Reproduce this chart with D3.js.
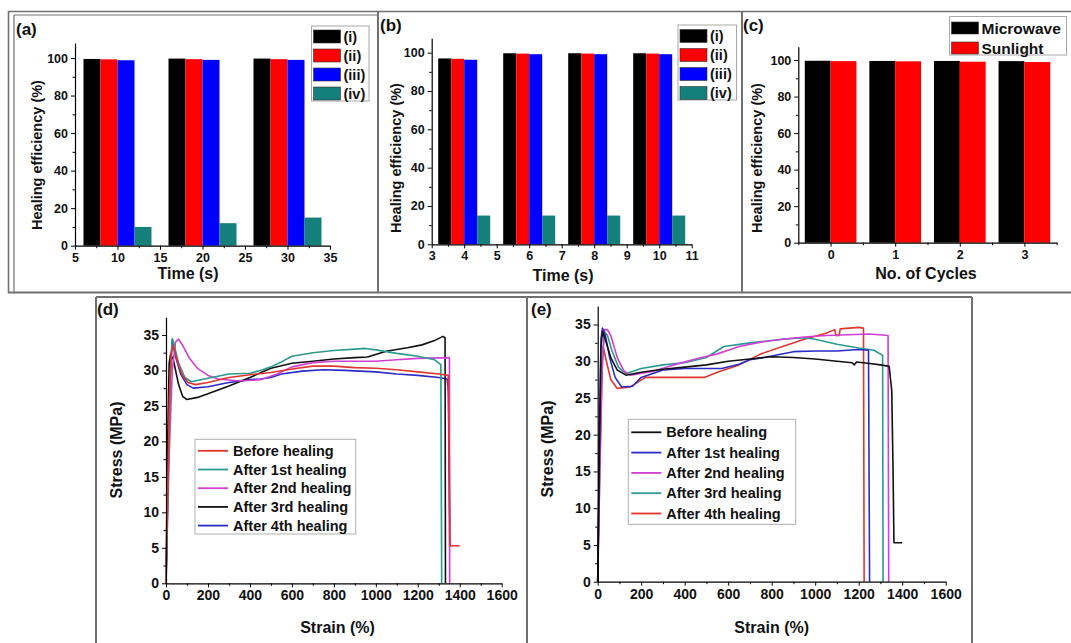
<!DOCTYPE html>
<html>
<head>
<meta charset="utf-8">
<script src="https://cdn.jsdelivr.net/npm/d3@7"></script>
<style>
  body { margin: 0; background: #fff; }
  svg { display: block; font-family: "Liberation Sans", Arial, sans-serif; font-weight: bold; }
</style>
</head>
<body>
<div id="fig"></div>
<script>
// ---- data ----
var barLabels = ["(i)", "(ii)", "(iii)", "(iv)"];
var timesA = [10, 20, 30];
var a_i = [99.5, 99.7, 99.7];
var a_ii = [99.3, 99.4, 99.4];
var a_iii = [98.8, 99.0, 99.0];
var a_iv = [10, 12, 15];

var timesB = [4, 6, 8, 10];
var b_i = [97.0, 99.7, 99.7, 99.7];
var b_ii = [96.8, 99.5, 99.5, 99.5];
var b_iii = [96.3, 99.2, 99.2, 99.2];
var b_iv = [15, 15, 15, 15];

var cycles = [0, 1, 2, 3];
var microwave = [99.6, 99.5, 99.5, 99.4];
var sunlight = [99.4, 99.3, 99.1, 98.9];

var ticksTimeA = [5, 10, 15, 20, 25, 30, 35];
var ticksTimeB = [3, 4, 5, 6, 7, 8, 9, 10, 11];
var ticksEff = [0, 20, 40, 60, 80, 100];
var ticksStrain = [0, 200, 400, 600, 800, 1000, 1200, 1400, 1600];
var ticksStress = [0, 5, 10, 15, 20, 25, 30, 35];

var curveNames = ["Before healing", "After 1st healing", "After 2nd healing", "After 3rd healing", "After 4th healing"];

// panel (d): [strain %, stress MPa]
var dBefore = [[0,0],[8,12],[16,26],[25,32.5],[35,33.5],[50,31.8],[75,29.5],[105,28.3],[140,28],[200,28.3],[300,29],[400,29.4],[500,29.7],[600,30.2],[700,30.6],[800,30.6],[900,30.4],[1000,30.3],[1100,30.1],[1200,29.8],[1300,29.5],[1345,29.3],[1350,18],[1354,5.3],[1400,5.3]];
var dFirst = [[0,0],[10,14],[20,28],[30,34.5],[40,33.5],[60,31],[90,29],[120,28.4],[200,28.9],[300,29.5],[400,29.6],[450,30],[500,30.5],[550,31.2],[600,32],[700,32.5],[800,32.8],[900,33],[950,33.1],[1000,32.9],[1100,32.4],[1200,32],[1280,31.5],[1310,30.8],[1314,0]];
var dSecond = [[0,0],[15,18],[30,30],[45,34],[60,34.4],[80,33.5],[110,31.8],[150,30.3],[200,29.3],[250,28.8],[350,28.5],[450,28.7],[530,29.5],[600,30.5],[700,31.1],[800,31.3],[900,31.3],[1000,31.3],[1100,31.5],[1200,31.7],[1351,31.8],[1352,0]];
var dThird = [[0,0],[8,20],[15,31],[22,32.3],[35,31.5],[60,28],[80,26.3],[100,25.9],[150,26.2],[200,26.7],[300,27.8],[400,29],[500,30.3],[600,31],[700,31.3],[800,31.6],[900,31.8],[960,31.9],[1050,32.7],[1150,33.2],[1220,33.6],[1280,34.2],[1320,34.8],[1330,34.6],[1332,0]];
var dFourth = [[0,0],[10,16],[20,30],[30,34.3],[45,32],[70,29.5],[100,28],[130,27.5],[200,27.7],[300,28.3],[400,28.7],[450,28.8],[500,29],[550,29.5],[650,29.9],[750,30.1],[850,30],[1000,29.8],[1100,29.5],[1200,29.3],[1300,29],[1340,28.8],[1346,27],[1352,5.2]];

// panel (e)
var eBefore = [[0,0],[8,18],[15,32],[22,34],[35,33],[60,30.5],[90,28.8],[130,28.1],[200,28.5],[300,28.9],[400,29.2],[500,29.5],[600,30],[700,30.3],[800,30.6],[900,30.5],[1000,30.3],[1100,30],[1170,29.8],[1180,29.5],[1190,29.9],[1250,29.7],[1300,29.5],[1340,29.3],[1352,26],[1358,15],[1362,5.3],[1400,5.3]];
var eFirst = [[0,0],[8,20],[15,33],[22,34.5],[35,33.5],[55,30.5],[80,27.8],[110,26.5],[160,26.6],[200,27.8],[300,28.8],[400,29],[500,29],[570,29],[650,29.6],[700,30.2],[800,30.7],[900,31.3],[1000,31.4],[1100,31.4],[1200,31.6],[1245,31.5],[1250,0]];
var eSecond = [[0,0],[12,18],[22,30],[32,34.3],[45,34.3],[60,33.5],[90,30.5],[120,28.7],[150,28.1],[250,28.6],[350,29.5],[450,30.3],[550,31],[650,32],[750,32.6],[850,33],[950,33.3],[1050,33.5],[1150,33.6],[1250,33.7],[1335,33.5],[1338,0]];
var eThird = [[0,0],[10,16],[20,30],[30,34],[45,33.5],[65,31.5],[95,29.2],[130,28.3],[200,29],[300,29.5],[400,29.8],[500,30.5],[580,32],[700,32.5],[850,33],[950,33.2],[1000,33],[1100,32.3],[1200,31.8],[1270,31.5],[1310,30.8],[1312,0]];
var eFourth = [[0,0],[8,15],[15,26],[25,32],[40,30],[60,27.5],[90,26.3],[150,26.5],[220,27.8],[300,27.8],[400,27.8],[490,27.8],[550,28.5],[650,29.5],[750,31],[850,32],[950,33],[1050,33.8],[1090,34.3],[1095,33.5],[1110,33.5],[1115,34.4],[1200,34.6],[1222,34.5],[1225,0]];

var svgWidth = 1071;
var svgHeight = 643;

var svg = d3.select("#fig")
  .append("svg")
  .attr("width", svgWidth)
  .attr("height", svgHeight);

// panel frames
var frameColor = "#707070";
function hline(x1, x2, y, w) {
  svg.append("line").attr("x1", x1).attr("x2", x2).attr("y1", y).attr("y2", y)
    .attr("stroke", frameColor).attr("stroke-width", w || 1.6);
}
function vline(x, y1, y2, w) {
  svg.append("line").attr("x1", x).attr("x2", x).attr("y1", y1).attr("y2", y2)
    .attr("stroke", frameColor).attr("stroke-width", w || 1.6);
}
hline(8, 1071, 11.5);
vline(8.5, 11, 293);
hline(14, 378, 15, 1.2);
vline(14, 15, 292, 1.2);
vline(378, 11, 293, 2);
vline(742, 11, 293, 2);
hline(8, 1071, 292.5, 2);
hline(96, 972, 297, 2);
vline(96, 297, 643, 2);
vline(527, 297, 643, 2);
vline(972, 297, 643, 2);

var intFmt = d3.format("d");

function styleAxis(g, size) {
  g.select(".domain").attr("stroke", "#000").attr("stroke-width", 1.2);
  g.selectAll(".tick line").attr("stroke", "#000").attr("stroke-width", 1);
  g.selectAll(".tick text").attr("font-size", size).attr("font-weight", "bold")
    .attr("font-family", "Liberation Sans, Arial, sans-serif").attr("fill", "#111");
}

function drawAxes(p, xs, ys) {
  var xAxis = d3.axisBottom(xs).tickValues(p.xTicks).tickSize(4).tickSizeOuter(0).tickPadding(3)
    .tickFormat(intFmt);
  var gx = svg.append("g").attr("transform", `translate(0, ${p.y0})`).call(xAxis);
  styleAxis(gx, p.tickFont);
  if (p.xMinor) {
    var gxm = svg.append("g").attr("transform", `translate(0, ${p.y0})`)
      .call(d3.axisBottom(xs).tickValues(p.xMinor).tickSize(2.5).tickSizeOuter(0).tickFormat(""));
    gxm.select(".domain").remove();
    gxm.selectAll(".tick line").attr("stroke", "#000");
  }
  var gy = svg.append("g").attr("transform", `translate(${p.x0}, 0)`)
    .call(d3.axisLeft(ys).tickValues(p.yTicks).tickSize(4).tickSizeOuter(0).tickPadding(3).tickFormat(intFmt));
  styleAxis(gy, p.tickFont);
  if (p.yMinor) {
    var gym = svg.append("g").attr("transform", `translate(${p.x0}, 0)`)
      .call(d3.axisLeft(ys).tickValues(p.yMinor).tickSize(2.5).tickSizeOuter(0).tickFormat(""));
    gym.select(".domain").remove();
    gym.selectAll(".tick line").attr("stroke", "#000");
  }

  svg.append("text")
    .attr("x", p.xTitle[1]).attr("y", p.xTitle[2])
    .attr("text-anchor", "middle")
    .attr("font-size", p.titleFont)
    .attr("fill", "#111")
    .text(p.xTitle[0]);
  svg.append("text")
    .attr("transform", `translate(${p.yTitle[1]}, ${p.yTitle[2]}) rotate(-90)`)
    .attr("text-anchor", "middle")
    .attr("dominant-baseline", "central")
    .attr("font-size", p.yTitleFont || p.titleFont)
    .attr("fill", "#111")
    .text(p.yTitle[0]);
  svg.append("text")
    .attr("x", p.label[1]).attr("y", p.label[2])
    .attr("font-size", 17)
    .attr("fill", "#111")
    .text(p.label[0]);
}

function barPanel(p) {
  var xs = d3.scaleLinear().domain(p.xDomain).range([p.x0, p.x1]);
  var ys = d3.scaleLinear().domain(p.yDomain).range([p.y0, p.y1]);

  p.series.forEach(function (s, si) {
    svg.append("g").selectAll("rect")
      .data(p.groups.map((g, i) => ({ g: g, v: s.values[i] })))
      .enter()
      .append("rect")
      .attr("x", d => xs(d.g + p.offsets[si] - p.barWidth / 2))
      .attr("width", d => xs(d.g + p.offsets[si] + p.barWidth / 2) - xs(d.g + p.offsets[si] - p.barWidth / 2))
      .attr("y", d => ys(d.v))
      .attr("height", d => ys(0) - ys(d.v))
      .attr("fill", s.color);
  });

  drawAxes(p, xs, ys);

  // legend
  var lg = p.legend;
  svg.append("rect").attr("x", lg.x).attr("y", lg.y).attr("width", lg.w).attr("height", lg.h)
    .attr("fill", "#fff").attr("stroke", "#a8a8a8").attr("stroke-width", 1);
  p.series.forEach(function (s, i) {
    var cy = lg.y + lg.first + i * lg.step;
    svg.append("rect").attr("x", lg.x + 2).attr("y", cy - lg.sh / 2)
      .attr("width", lg.sw).attr("height", lg.sh).attr("fill", s.color)
      .attr("stroke", "#333").attr("stroke-width", 0.6);
    svg.append("text").attr("x", lg.x + lg.sw + 5).attr("y", cy)
      .attr("dominant-baseline", "central")
      .attr("font-size", lg.font).attr("fill", "#111").text(s.name);
  });
}

function curvePanel(p) {
  var xs = d3.scaleLinear().domain(p.xDomain).range([p.x0, p.x1]);
  var ys = d3.scaleLinear().domain(p.yDomain).range([p.y0, p.y1]);
  var line = d3.line().x(d => xs(d[0])).y(d => ys(d[1]));

  p.series.slice().reverse().forEach(function (s) {
    svg.append("path").datum(s.values)
      .attr("fill", "none").attr("stroke", s.color)
      .attr("stroke-width", 1.6).attr("stroke-linejoin", "round")
      .attr("d", line);
  });

  drawAxes(p, xs, ys);

  var lg = p.legend;
  svg.append("rect").attr("x", lg.x).attr("y", lg.y).attr("width", lg.w).attr("height", lg.h)
    .attr("fill", "#fff").attr("stroke", "#b0b0b0").attr("stroke-width", 1);
  p.series.forEach(function (s, i) {
    var cy = lg.y + lg.first + i * lg.step;
    svg.append("line").attr("x1", lg.x + 3).attr("x2", lg.x + 33).attr("y1", cy).attr("y2", cy)
      .attr("stroke", s.color).attr("stroke-width", 1.8);
    svg.append("text").attr("x", lg.x + 38).attr("y", cy)
      .attr("dominant-baseline", "central")
      .attr("font-size", lg.font).attr("fill", "#111").text(s.name);
  });
}

var barColors = ["#000000", "#ff0000", "#0000ff", "#157f7b"];

barPanel({
  x0: 75, x1: 330, y0: 245.7, y1: 43,
  xDomain: [5, 35], yDomain: [0, 108],
  xTicks: ticksTimeA, xMinor: d3.range(7.5, 35, 5),
  yTicks: ticksEff, yMinor: d3.range(10, 110, 20),
  tickFont: 12.5, titleFont: 16, yTitleFont: 14.5,
  groups: timesA, offsets: [-3, -1, 1, 3], barWidth: 2,
  series: [
    { name: barLabels[0], values: a_i, color: barColors[0] },
    { name: barLabels[1], values: a_ii, color: barColors[1] },
    { name: barLabels[2], values: a_iii, color: barColors[2] },
    { name: barLabels[3], values: a_iv, color: barColors[3] }
  ],
  xTitle: ["Time (s)", 188, 279], yTitle: ["Healing efficiency (%)", 37, 155],
  label: ["(a)", 16, 35],
  legend: { x: 311.5, y: 26, w: 57.5, h: 75, first: 10.5, step: 19, sw: 27, sh: 13, font: 14.5 }
});

barPanel({
  x0: 431.7, x1: 691.7, y0: 244.3, y1: 38.3,
  xDomain: [3, 11], yDomain: [0, 107.5],
  xTicks: ticksTimeB, xMinor: d3.range(3.5, 11, 1),
  yTicks: ticksEff, yMinor: d3.range(10, 110, 20),
  tickFont: 12.5, titleFont: 16, yTitleFont: 14.5,
  groups: timesB, offsets: [-0.6, -0.2, 0.2, 0.6], barWidth: 0.4,
  series: [
    { name: barLabels[0], values: b_i, color: barColors[0] },
    { name: barLabels[1], values: b_ii, color: barColors[1] },
    { name: barLabels[2], values: b_iii, color: barColors[2] },
    { name: barLabels[3], values: b_iv, color: barColors[3] }
  ],
  xTitle: ["Time (s)", 563, 281], yTitle: ["Healing efficiency (%)", 396, 158],
  label: ["(b)", 380, 31],
  legend: { x: 678, y: 25, w: 58.5, h: 75, first: 11, step: 19, sw: 27, sh: 13, font: 14.5 }
});

barPanel({
  x0: 798.3, x1: 1056.7, y0: 242.7, y1: 46.7,
  xDomain: [-0.5, 3.5], yDomain: [0, 107.3],
  xTicks: cycles, xMinor: [-0.5, 0.5, 1.5, 2.5, 3.5],
  yTicks: ticksEff, yMinor: d3.range(10, 110, 20),
  tickFont: 12.5, titleFont: 16, yTitleFont: 14.5,
  groups: cycles, offsets: [-0.2, 0.2], barWidth: 0.4,
  series: [
    { name: "Microwave", values: microwave, color: "#000000" },
    { name: "Sunlight", values: sunlight, color: "#ff0000" }
  ],
  xTitle: ["No. of Cycles", 926, 279], yTitle: ["Healing efficiency (%)", 757, 158],
  label: ["(c)", 743, 31],
  legend: { x: 949.5, y: 16.5, w: 117, h: 38.5, first: 11.5, step: 20, sw: 27, sh: 12, font: 15.5 }
});

curvePanel({
  x0: 166, x1: 501.7, y0: 583.3, y1: 317.2,
  xDomain: [0, 1600], yDomain: [0, 37.5],
  xTicks: ticksStrain, xMinor: d3.range(100, 1600, 200),
  yTicks: ticksStress, yMinor: d3.range(2.5, 37.5, 5),
  tickFont: 14, titleFont: 16,
  series: [
    { name: curveNames[0], values: dBefore, color: "#e0362e" },
    { name: curveNames[1], values: dFirst, color: "#2a9a8e" },
    { name: curveNames[2], values: dSecond, color: "#d23fd2" },
    { name: curveNames[3], values: dThird, color: "#111111" },
    { name: curveNames[4], values: dFourth, color: "#2b2bc6" }
  ],
  xTitle: ["Strain (%)", 337.5, 633], yTitle: ["Stress (MPa)", 116, 450],
  label: ["(d)", 97, 315],
  legend: { x: 195, y: 439.3, w: 160.7, h: 94.7, first: 11.5, step: 18.7, font: 14.5 }
});

curvePanel({
  x0: 597.7, x1: 945.7, y0: 581.7, y1: 306.1,
  xDomain: [0, 1600], yDomain: [0, 37.5],
  xTicks: ticksStrain, xMinor: d3.range(100, 1600, 200),
  yTicks: ticksStress, yMinor: d3.range(2.5, 37.5, 5),
  tickFont: 14, titleFont: 16,
  series: [
    { name: curveNames[0], values: eBefore, color: "#111111" },
    { name: curveNames[1], values: eFirst, color: "#2b2bc6" },
    { name: curveNames[2], values: eSecond, color: "#d23fd2" },
    { name: curveNames[3], values: eThird, color: "#2a9a8e" },
    { name: curveNames[4], values: eFourth, color: "#e0362e" }
  ],
  xTitle: ["Strain (%)", 771.7, 633], yTitle: ["Stress (MPa)", 547, 449],
  label: ["(e)", 531, 315],
  legend: { x: 628.3, y: 419.3, w: 167.4, h: 105, first: 13, step: 20.3, font: 14.5 }
});
</script>
</body>
</html>
